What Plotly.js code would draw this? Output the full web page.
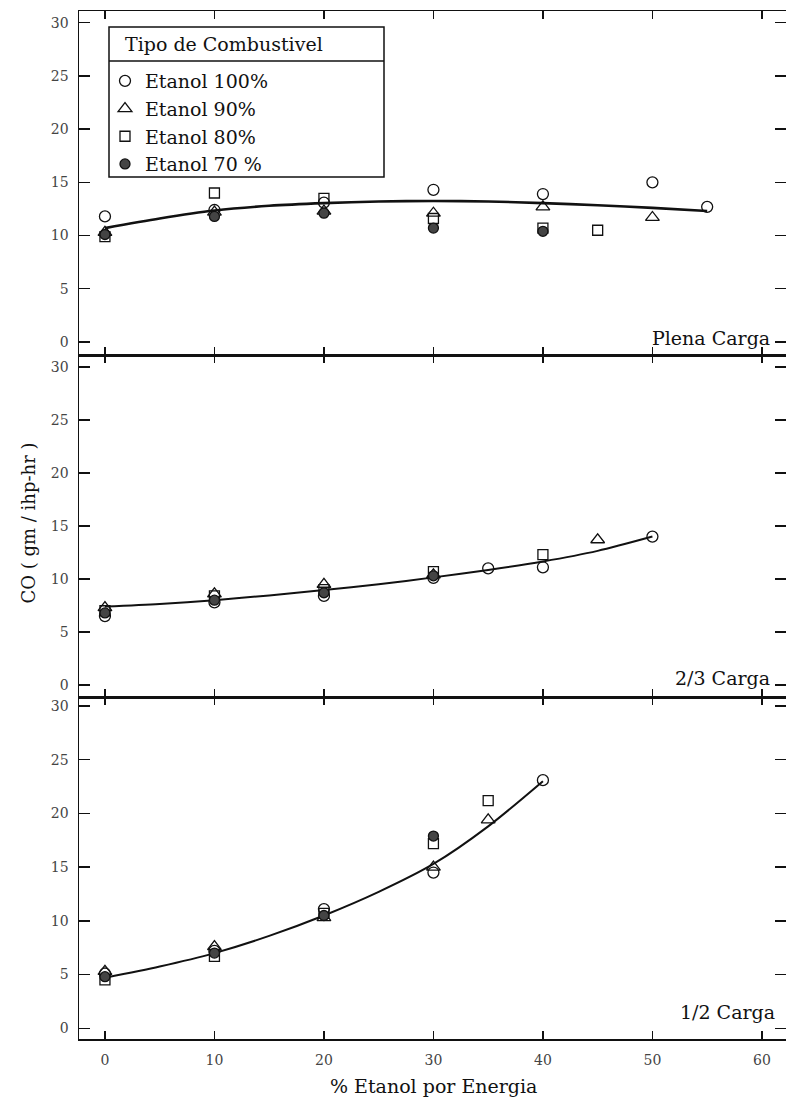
<!DOCTYPE html>
<html><head><meta charset="utf-8">
<script src="https://cdn.plot.ly/plotly-3.0.1.min.js"></script>
<style>html,body{margin:0;padding:0;background:#fff}#chart{width:786px;height:1102px}</style>
</head><body><div id="chart"></div>
<script>
// ---- data ----
const seriesNames = ['Etanol 100%', 'Etanol 90%', 'Etanol 80%', 'Etanol 70 %'];
const legendTitle = 'Tipo de Combustivel';
const panelLabels = ['Plena Carga', '2/3 Carga', '1/2 Carga'];
const xTitle = '% Etanol por Energia';
const yTitle = 'CO ( gm / ihp-hr )';
const xTickVals = [0, 10, 20, 30, 40, 50, 60];
const yTickVals = [0, 5, 10, 15, 20, 25, 30];

// Plena Carga
const plenaE100x = [0, 10, 20, 30, 40, 50, 55];
const plenaE100y = [11.8, 12.4, 13.1, 14.3, 13.9, 15.0, 12.7];
const plenaE90x = [0, 10, 20, 30, 40, 50];
const plenaE90y = [10.3, 12.2, 12.3, 12.1, 12.7, 11.7];
const plenaE80x = [0, 10, 20, 30, 40, 45];
const plenaE80y = [9.9, 14.0, 13.5, 11.6, 10.7, 10.5];
const plenaE70x = [0, 10, 20, 30, 40];
const plenaE70y = [10.1, 11.8, 12.1, 10.7, 10.4];
const plenaFitX = [0, 5, 10, 15, 20, 25, 30, 35, 40, 45, 50, 55];
const plenaFitY = [10.7, 11.6, 12.35, 12.8, 13.05, 13.2, 13.25, 13.2, 13.05, 12.85, 12.6, 12.3];

// 2/3 Carga
const dosE100x = [0, 10, 20, 30, 35, 40, 50];
const dosE100y = [6.5, 7.8, 8.4, 10.1, 11.0, 11.1, 14.0];
const dosE90x = [0, 10, 20, 30, 45];
const dosE90y = [7.3, 8.6, 9.5, 10.4, 13.7];
const dosE80x = [0, 10, 20, 30, 40];
const dosE80y = [7.0, 8.4, 9.0, 10.7, 12.3];
const dosE70x = [0, 10, 20, 30];
const dosE70y = [6.8, 8.0, 8.7, 10.3];
const dosFitX = [0, 5, 10, 15, 20, 25, 30, 35, 40, 45, 50];
const dosFitY = [7.4, 7.65, 8.0, 8.45, 8.95, 9.5, 10.15, 10.85, 11.65, 12.65, 14.0];

// 1/2 Carga
const meiaE100x = [0, 10, 20, 30, 40];
const meiaE100y = [5.1, 7.2, 11.1, 14.5, 23.1];
const meiaE90x = [0, 10, 20, 30, 35];
const meiaE90y = [5.3, 7.6, 10.3, 15.0, 19.4];
const meiaE80x = [0, 10, 20, 30, 35];
const meiaE80y = [4.5, 6.7, 10.7, 17.2, 21.2];
const meiaE70x = [0, 10, 20, 30];
const meiaE70y = [4.8, 7.0, 10.5, 17.9];
const meiaFitX = [0, 5, 10, 15, 20, 25, 30, 35, 40];
const meiaFitY = [4.7, 5.75, 7.0, 8.6, 10.5, 12.7, 15.3, 18.8, 23.0];

// ---- styling ----
const INK = '#111';
const FONT = 'DejaVu Serif';
const symbolStyles = [
  {symbol: 'circle-open', size: 11, color: INK, line: {width: 1.3, color: INK}},
  {symbol: 'triangle-up-open', size: 12, color: INK, line: {width: 1.3, color: INK}},
  {symbol: 'square-open', size: 10, color: INK, line: {width: 1.3, color: INK}},
  {symbol: 'circle', size: 10, color: '#444', line: {width: 1.3, color: INK}}
];

const panels = [
  {xs: [plenaE100x, plenaE90x, plenaE80x, plenaE70x], ys: [plenaE100y, plenaE90y, plenaE80y, plenaE70y], fx: plenaFitX, fy: plenaFitY, lw: 2.6},
  {xs: [dosE100x, dosE90x, dosE80x, dosE70x], ys: [dosE100y, dosE90y, dosE80y, dosE70y], fx: dosFitX, fy: dosFitY, lw: 2},
  {xs: [meiaE100x, meiaE90x, meiaE80x, meiaE70x], ys: [meiaE100y, meiaE90y, meiaE80y, meiaE70y], fx: meiaFitX, fy: meiaFitY, lw: 2}
];

const traces = [];
panels.forEach((p, i) => {
  const xa = i === 0 ? 'x' : 'x' + (i + 1);
  const ya = i === 0 ? 'y' : 'y' + (i + 1);
  traces.push({x: p.fx, y: p.fy, xaxis: xa, yaxis: ya, mode: 'lines', type: 'scatter',
    line: {color: INK, width: p.lw, shape: 'spline', smoothing: 0.8}, showlegend: false, hoverinfo: 'skip'});
  for (let s = 0; s < 4; s++) {
    traces.push({x: p.xs[s], y: p.ys[s], xaxis: xa, yaxis: ya, mode: 'markers', type: 'scatter',
      name: seriesNames[s], legendgroup: 'g' + s, showlegend: i === 0,
      marker: symbolStyles[s]});
  }
});

const XR = [-2.37, 62.2];
const xBase = {range: XR, tickvals: xTickVals, ticks: 'inside', ticklen: 8, tickwidth: 1.2, tickcolor: INK,
  showline: true, linecolor: INK, linewidth: 1.5, mirror: 'ticks', showgrid: false, zeroline: false,
  showticklabels: false, fixedrange: true};
const yBase = {tickvals: yTickVals, ticks: 'inside', ticklen: 11, tickwidth: 1.4, tickcolor: INK,
  showline: true, linecolor: INK, linewidth: 1.5, mirror: 'ticks', showgrid: false, zeroline: false,
  tickfont: {family: FONT, size: 14, color: '#444'}, ticklabelstandoff: 6, fixedrange: true};

const W = 786, H = 1102, ML = 79, MR = 0, MT = 11, MB = 63;
const PW = W - ML - MR, PH = H - MT - MB;
const px2paperX = px => (px - ML) / PW;
const px2paperY = py => (H - MB - py) / PH;

const layout = {
  width: W, height: H,
  margin: {l: ML, r: MR, t: MT, b: MB, pad: 0},
  paper_bgcolor: '#fff', plot_bgcolor: '#fff',
  font: {family: FONT, color: INK},
  xaxis: Object.assign({}, xBase, {anchor: 'y'}),
  xaxis2: Object.assign({}, xBase, {anchor: 'y2'}),
  xaxis3: Object.assign({}, xBase, {anchor: 'y3', showticklabels: true,
    tickfont: {family: FONT, size: 14, color: '#444'}, ticklabelstandoff: 8}),
  yaxis: Object.assign({}, yBase, {range: [-1.27, 31.1], domain: [0.6649, 1], anchor: 'x'}),
  yaxis2: Object.assign({}, yBase, {range: [-1.18, 31.08], domain: [0.3322, 0.6649], anchor: 'x2'}),
  yaxis3: Object.assign({}, yBase, {range: [-1.0, 30.8], domain: [0, 0.3322], anchor: 'x3'}),
  showlegend: true,
  legend: {x: px2paperX(105), y: px2paperY(62), xanchor: 'left', yanchor: 'top',
    bgcolor: 'rgba(0,0,0,0)', borderwidth: 0, font: {family: FONT, size: 19, color: INK},
    tracegroupgap: 0, itemwidth: 30},
  shapes: [
    {type: 'rect', xref: 'paper', yref: 'paper', x0: px2paperX(109), x1: px2paperX(384),
      y0: px2paperY(177), y1: px2paperY(27), line: {color: INK, width: 1.5}, fillcolor: 'rgba(0,0,0,0)'},
    {type: 'line', xref: 'paper', yref: 'paper', x0: px2paperX(109), x1: px2paperX(384),
      y0: px2paperY(61), y1: px2paperY(61), line: {color: INK, width: 1.5}}
  ],
  annotations: [
    {text: legendTitle, xref: 'paper', yref: 'paper', x: px2paperX(123), y: px2paperY(44),
      xanchor: 'left', yanchor: 'middle', showarrow: false, font: {family: FONT, size: 19, color: INK}},
    {text: panelLabels[0], xref: 'x', yref: 'y', x: 60.9, y: 0.4, xanchor: 'right', yanchor: 'middle',
      showarrow: false, font: {family: FONT, size: 19, color: INK}},
    {text: panelLabels[1], xref: 'x2', yref: 'y2', x: 60.9, y: 0.66, xanchor: 'right', yanchor: 'middle',
      showarrow: false, font: {family: FONT, size: 19, color: INK}},
    {text: panelLabels[2], xref: 'x3', yref: 'y3', x: 61.4, y: 1.55, xanchor: 'right', yanchor: 'middle',
      showarrow: false, font: {family: FONT, size: 19, color: INK}},
    {text: yTitle, xref: 'paper', yref: 'paper', x: px2paperX(27.5), y: px2paperY(523), textangle: -90,
      xanchor: 'center', yanchor: 'middle', showarrow: false, font: {family: FONT, size: 18, color: INK}},
    {text: xTitle, xref: 'paper', yref: 'paper', x: px2paperX(433), y: px2paperY(1086),
      xanchor: 'center', yanchor: 'middle', showarrow: false, font: {family: FONT, size: 19, color: INK}}
  ]
};

Plotly.newPlot('chart', traces, layout, {displayModeBar: false, staticPlot: true});
</script>
</body></html>
